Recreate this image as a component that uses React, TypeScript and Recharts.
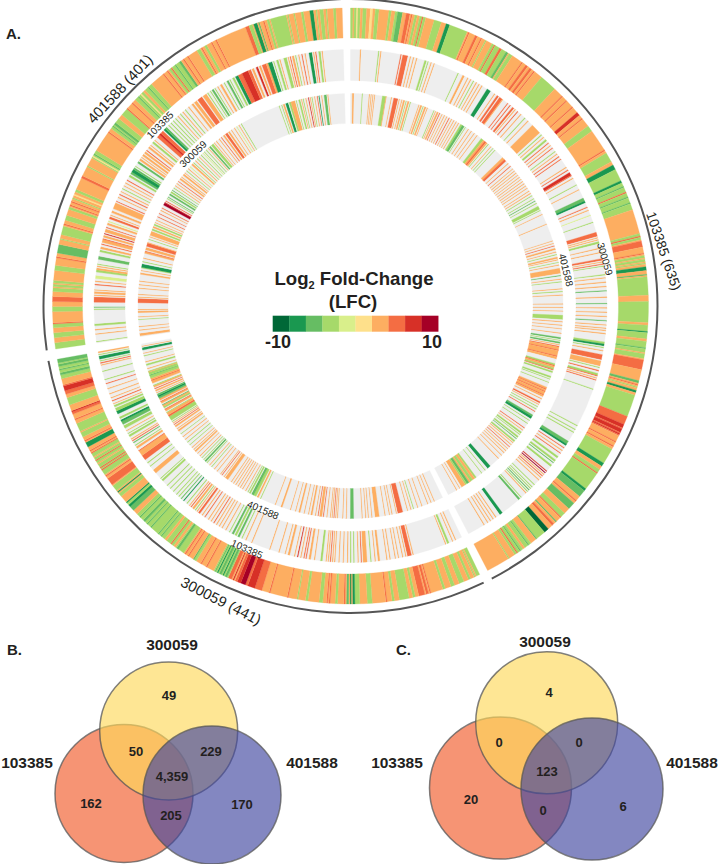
import React from 'react';
import { PieChart, Pie, Cell, ScatterChart, Scatter, XAxis, YAxis } from 'recharts';

type Stripe = [number, number, number]; // first gene, gene count, LFC

const SECTOR_NAMES = ['103385', '300059', '401588'];
const SECTOR_GENES = [635, 441, 401];
const SECTOR_ANGLES = [[0, 152.6], [154.3, 259.7], [261.7, 358.4]];

const LFC_BINS = [-9, -7, -5, -3, -1, 1, 3, 5, 7, 9];
const LFC_COLORS = ['#006837', '#1a9850', '#66bd63', '#a6d96a', '#d9ef8b', '#fee08b', '#fdae61', '#f46d43', '#d73027', '#a50026'];
const NO_CHANGE = '#eeeeee';

// outer ring, genes with an LFC in 103385; background is +3
const OUTER_103385: Stripe[] = [
  [0,8,-3],[2,1,3],[5,1,1],[10,3,-3],[16,2,1],[20,3,-3],[31,2,-3],[36,2,-3],[38,4,-5],[45,3,5],[49,1,5],[52,2,-3],[56,5,-3],[58,1,5],[68,6,-3],
  [78,3,-7],[81,15,-3],[97,1,5],[103,2,5],[108,1,5],[112,1,-3],[118,7,-3],[120,1,5],[125,2,5],[127,4,-3],[131,2,-5],[134,3,-3],[146,1,5],[150,2,5],[154,2,5],[158,1,5],
  [166,14,-3],[188,1,5],[193,1,5],[200,1,5],[206,3,7],[212,1,5],[220,5,-3],[243,1,5],[246,8,-3],[257,4,-7],[261,10,-3],[271,2,-7],[273,23,-3],[276,1,-5],[281,1,5],[285,1,-5],[290,1,-5],
  [316,5,-3],[318,1,5],[322,5,5],[332,1,5],[334,2,-3],[337,2,-3],[340,1,-3],[343,3,-7],[347,1,3],[349,1,-5],[351,15,-3],[371,1,-3],
  [372,45,-3],[388,2,3],[395,1,-7],[401,2,3],[408,1,-5],[412,1,3],[418,8,5],[435,2,-5],[438,1,5],[440,1,-3],[443,2,-7],[447,18,-3],[465,17,5],[472,3,7],[476,3,7],[480,1,7],[487,1,5],[491,1,5],
  [494,13,-3],[507,3,-7],[513,19,-3],[516,1,5],[532,2,-7],[534,6,-5],[544,1,5],[547,6,-5],[558,4,-3],[562,1,5],[567,1,-5],[570,2,5],[576,4,-9],[580,5,-3],[585,3,-3],[588,1,-5],[594,6,-3],[596,1,-5],[602,8,-3],[604,1,-5],[607,1,5],[615,1,-3],
];
const OUTER_300059: Stripe[] = [
  [0,3,-3],[4,1,-3],[8,2,-3],[14,4,-3],[22,3,-3],[30,2,-3],[42,1,5],[44,8,5],[46,1,3],[55,2,-3],[60,8,-3],[72,2,-3],[78,1,5],[90,4,-3],[100,4,-3],[104,2,-7],[107,1,-7],[109,2,-5],[112,1,5],[118,2,-3],[124,1,5],[126,1,5],[130,3,-3],[142,2,-3],[150,1,-3],[158,1,5],[173,1,5],
  [180,6,5],[186,6,7],[192,2,5],[194,4,9],[198,3,7],[201,2,5],[204,1,7],[206,3,5],[209,13,-3],[210,2,-5],[213,1,-7],[215,2,-5],[218,1,-7],[220,1,-5],[228,1,5],[233,1,5],[238,3,-3],[240,1,-5],[245,1,5],[248,1,5],
  [250,30,-3],[255,2,-5],[258,2,3],[262,1,5],[267,2,3],[272,1,-5],[275,1,-5],[280,20,-3],[283,1,-5],[287,1,-5],[290,2,-5],[295,1,-5],[299,1,3],[303,4,-5],[307,2,-7],[309,2,-3],[311,1,-7],[318,3,-3],[322,1,-7],[324,5,-3],[330,6,5],[338,1,5],
  [340,20,-3],[344,1,5],[346,1,5],[350,1,3],[353,1,5],[356,1,3],[360,1,5],[362,1,5],[366,4,-7],[371,1,5],[375,12,-3],[379,1,3],[390,1,5],[395,3,5],[397,1,7],[403,6,-3],[412,3,5],[415,4,7],[419,1,5],[425,16,-3],[428,2,-5],[432,1,-5],[435,2,-5],[438,3,-5],
];
const OUTER_401588: Stripe[] = [
  [0,5,-3],[9,4,-3],[17,4,-3],[20,1,5],[30,4,-3],[38,4,5],[46,9,-3],[49,1,3],[52,1,3],[63,4,-3],[73,1,5],[77,7,-5],[88,1,-3],[92,7,-3],[100,1,5],[104,4,-3],[113,2,-3],[116,1,5],[119,1,5],[122,1,-3],[125,1,1],[128,2,-3],[140,2,5],[150,1,-3],
  [158,7,-3],[159,1,1],[161,1,-5],[182,1,5],[186,10,-3],[188,1,-5],[190,2,-5],[200,6,-3],[206,1,5],[212,1,5],[216,18,-3],[219,1,-5],[222,1,1],[225,2,3],[230,1,-5],[246,1,5],[250,1,5],[252,12,-3],[254,1,5],[258,1,-5],[262,2,-5],[266,1,5],[270,1,5],
  [279,3,-3],[283,1,5],[286,2,-3],[292,1,5],[296,1,5],[322,3,5],[325,3,-3],[329,3,-7],[333,1,-5],[337,1,5],[340,16,-3],[342,1,3],[357,1,-3],[362,1,-3],[368,2,-3],[375,3,-7],[380,1,-3],[383,3,-3],[388,1,-3],[394,2,-3],
];

// middle ring; background is no change
const MIDDLE_103385: Stripe[] = [
  [9,1,3],[26,1,-3],[28,1,3],[47,1,5],[49,5,5],[56,1,3],[59,1,3],[62,1,3],[70,2,-3],[73,1,-3],[76,1,3],[79,1,3],[103,1,-3],[108,2,3],[113,1,3],[116,1,3],[119,1,-3],[122,1,3],[125,1,3],[128,1,3],[134,4,-7],[142,1,3],[145,2,5],[148,3,5],[151,1,3],[157,1,5],[160,1,5],[163,2,5],[166,1,3],[169,1,5],[173,1,3],[178,1,-3],[182,1,3],[188,10,3],
  [200,1,-3],[203,1,3],[206,2,-3],[210,1,5],[213,1,3],[216,1,5],[220,1,-3],[223,1,3],[226,1,5],[229,1,5],[238,1,3],[241,1,5],[244,3,7],[247,1,5],[250,1,3],[257,1,-3],[262,1,3],[271,3,-5],[274,2,-7],[280,1,5],[283,1,3],[288,1,-1],[295,1,-3],[305,4,5],[310,1,3],[312,1,3],[314,2,-3],[320,1,3],[324,1,3],[330,2,5],[333,1,3],[335,1,5],[337,1,-3],[345,1,-3],[348,1,3],[352,1,3],[356,1,3],[360,1,-5],[366,1,3],
  [372,1,-5],[376,1,3],[380,1,3],[384,1,3],[388,1,-5],[392,1,3],[395,1,3],[397,1,3],[400,1,3],[408,2,-3],[410,2,-7],[413,1,-3],[416,1,3],[420,5,5],[426,5,3],[432,1,-3],[435,1,5],[438,2,-3],[440,1,5],[442,1,3],[444,1,5],[453,1,-3],[490,1,-3],[494,1,-3],[497,1,-3],[507,3,-5],[510,2,-7],[514,1,5],[517,1,3],[520,1,5],[524,2,-3],[528,2,-3],[531,1,-5],[534,2,-3],[541,1,7],[543,1,9],[545,1,3],[547,1,5],[549,1,3],[552,1,3],[558,1,-3],[561,1,-3],[563,1,-3],[565,1,-5],[567,1,-3],[569,1,3],[575,1,-3],[577,2,-5],[598,3,-7],[605,1,3],[608,1,3],[611,1,3],[614,1,3],[618,1,3],
];
const MIDDLE_300059: Stripe[] = [
  [6,1,3],[9,1,3],[13,2,-3],[16,1,3],[48,1,3],[50,4,5],[55,1,3],[58,1,3],[62,1,3],[65,1,3],[70,1,3],[73,1,3],[80,2,3],[84,1,3],[88,1,-3],[92,4,3],[97,1,5],[100,1,3],[104,1,-3],[107,1,-3],[110,1,3],[114,1,3],[118,1,3],[122,1,3],[124,1,3],[126,1,5],[128,1,3],[130,1,3],[134,2,-3],[141,1,3],[145,2,3],[149,1,5],[151,1,5],[154,1,3],[157,1,7],[160,1,3],[165,2,3],[169,1,3],[175,1,3],[184,1,3],
  [202,1,3],[208,1,3],[212,1,-3],[215,2,-5],[218,2,-3],[221,2,-5],[225,1,-3],[229,1,3],[233,1,3],[236,1,3],[239,1,3],[242,1,5],[245,1,3],[248,1,3],[252,1,5],[255,1,3],[258,2,5],[261,1,3],[263,1,-3],[265,2,3],[268,1,5],[270,1,3],[273,1,-3],[277,1,-7],[280,1,-5],[283,1,-3],[286,1,-3],[290,1,-3],[294,1,-3],[298,1,-3],[304,2,-3],[307,1,-3],[314,3,3],[317,1,3],[322,1,-3],[326,1,-3],
  [330,5,5],[335,5,3],[340,1,5],[343,2,3],[346,1,-3],[349,1,-5],[351,1,5],[353,1,3],[356,2,-3],[359,1,-3],[362,1,3],[365,3,-3],[369,3,-5],[372,2,-7],[375,2,-3],[380,3,-7],[383,3,-3],[387,2,-3],[390,1,3],[393,1,5],[396,1,3],[400,1,3],[405,1,3],[410,1,5],[414,1,-3],[422,1,-3],[428,1,3],[430,1,5],[432,1,-3],[434,3,-7],[438,1,-3],[440,1,3],
];
const MIDDLE_401588: Stripe[] = [
  [1,1,-3],[8,1,3],[12,1,3],[16,2,-3],[31,1,-3],[33,1,-5],[38,5,5],[44,1,3],[46,2,3],[49,1,3],[54,1,5],[57,1,3],[60,3,-1],[66,2,-3],[68,2,3],[71,1,3],[73,1,-3],[78,3,-5],[85,2,-3],[88,2,3],[92,1,5],[94,3,3],[97,1,5],[99,2,3],[102,1,7],[104,3,3],[108,1,5],[111,2,3],[114,1,-1],[117,2,5],[120,1,3],[123,2,3],[127,6,3],[134,1,5],[138,1,3],[141,1,5],[144,1,3],[147,1,-3],[150,1,3],[153,1,3],[156,1,5],[160,2,-3],[163,2,-5],[165,3,-7],[168,2,-5],[171,1,-3],[175,2,-5],[178,2,3],[181,1,3],[183,2,3],[186,2,3],[189,1,5],[192,2,3],[195,1,3],[198,2,-3],
  [201,1,3],[205,8,5],[208,2,7],[214,2,-7],[216,2,-5],[220,1,-3],[223,1,-3],[226,1,-3],[229,1,-3],[232,1,3],[235,1,-3],[238,1,3],[241,1,-3],[245,1,3],[249,2,3],[252,3,3],[256,5,5],[262,4,3],[267,1,-3],[270,1,-3],[272,2,-5],[275,1,-3],[278,1,3],[281,2,3],[285,1,-3],[288,2,-5],[291,1,-3],[294,2,-3],[297,3,-7],[300,4,5],[304,6,7],[310,3,5],[314,2,3],[318,2,7],[321,2,3],[324,4,5],[328,2,3],[330,4,-7],[335,1,-3],[338,2,-3],[341,1,3],[345,3,-3],[349,1,3],[351,1,5],[353,2,3],[356,1,-3],[359,1,3],[362,1,5],[365,1,3],[369,3,-7],[373,1,3],[375,1,5],[378,2,-3],[381,1,3],
];

// inner ring; background is no change
const INNER_103385: Stripe[] = [
  [2,2,3],[13,1,-3],[21,1,3],[23,1,3],[25,1,3],[27,1,3],[36,4,-3],[40,1,3],[46,1,3],[49,5,5],[55,1,3],[58,1,3],[60,2,3],[63,1,-3],[65,2,3],[68,1,-3],[78,1,3],[80,2,3],[83,1,-3],[85,2,3],[88,1,3],[96,1,-3],[98,1,3],[100,2,3],[103,1,5],[106,1,3],[109,1,3],[112,1,3],[115,1,5],[118,1,3],[121,1,3],[124,1,3],[127,1,3],[130,2,-3],[132,3,-5],[136,1,-3],[140,1,3],[144,1,3],[148,1,3],[152,1,3],[158,3,-3],[161,2,3],[163,2,5],[165,2,3],[168,1,-3],[172,1,3],[175,1,-3],[178,1,-3],[190,5,3],[193,3,5],[199,1,3],
  [203,1,5],[207,1,3],[210,1,3],[213,1,3],[216,1,3],[219,1,3],[222,1,3],[225,1,3],[228,1,3],[231,1,3],[234,1,3],[238,1,3],[241,1,3],[244,1,-3],[248,1,-3],[251,1,-5],[254,1,-3],[258,4,-3],[263,1,-3],[268,1,3],[280,1,3],[300,1,3],[303,1,3],[306,1,5],[309,2,3],[313,1,3],[316,1,-3],[319,2,3],[322,1,3],[325,1,-3],[328,1,3],[332,6,3],[340,1,-5],[344,1,3],[347,1,-3],[355,1,3],[358,1,-3],[362,1,3],[372,1,3],[376,1,3],[380,1,3],[385,5,-3],[392,1,3],[396,1,3],
  [400,1,3],[405,1,3],[410,2,-5],[413,1,-3],[415,2,-5],[418,1,3],[420,1,5],[421,3,3],[424,1,5],[425,8,3],[431,1,5],[433,2,3],[440,2,-3],[442,1,5],[443,2,3],[445,2,-3],[447,1,5],[449,2,-3],[455,2,-3],[458,1,-3],[462,1,-3],[468,12,3],[470,1,5],[473,1,5],[477,1,5],[482,1,3],[486,2,5],[489,1,3],[492,1,-3],[495,1,-3],[498,1,5],[503,2,-5],[505,3,-7],[510,1,-3],[514,1,-3],[520,1,5],[523,1,3],[526,2,-3],[529,1,-3],[532,2,-3],[535,1,-5],[538,2,-3],[541,1,3],[544,1,3],[547,1,5],[550,1,3],[553,1,3],[556,1,3],[560,1,3],[565,1,3],[578,4,-7],[585,1,-3],[590,1,-3],[598,2,-3],[600,3,3],[603,3,-3],[606,2,3],[608,3,-5],[611,2,-3],[613,5,3],[620,1,3],[624,1,3],
];
const INNER_300059: Stripe[] = [
  [10,1,3],[14,1,3],[18,1,3],[25,1,3],[30,1,3],[35,1,-3],[38,1,3],[42,1,3],[48,6,5],[55,1,3],[60,1,3],[63,1,3],[68,1,3],[75,5,3],[83,1,3],[87,1,3],[90,1,3],[94,1,3],[104,4,-5],[112,1,3],[116,1,3],[122,1,3],[124,1,3],[126,1,5],[128,1,3],[130,1,3],[134,1,3],[138,1,5],[140,3,3],[144,1,5],[147,1,3],[151,2,3],[155,1,3],[160,1,3],[165,2,3],[170,1,3],[176,1,3],[186,2,3],[194,1,3],
  [212,1,-3],[215,2,3],[218,3,-3],[221,3,-5],[225,2,-3],[228,1,-3],[231,1,3],[235,1,3],[238,1,3],[241,1,3],[244,1,3],[247,1,3],[250,1,3],[255,4,3],[260,1,3],[263,1,5],[265,1,3],[270,1,3],[274,1,3],[278,1,-3],[281,1,3],[285,1,-3],[287,2,-5],[290,1,-3],[293,1,-3],[296,1,3],[300,1,3],[303,2,3],[306,1,3],[309,1,3],[313,1,-3],[317,1,-3],[321,1,3],[325,1,3],[329,1,-3],[333,2,3],[336,1,3],[339,2,3],[342,1,5],[344,1,3],[346,1,-3],
  [348,5,-3],[353,2,5],[355,3,3],[358,1,-3],[360,2,3],[362,1,5],[364,2,-3],[366,2,3],[368,1,-5],[370,2,3],[372,1,5],[374,2,3],[376,2,-5],[378,2,-7],[380,2,-5],[383,1,3],[385,2,3],[388,1,5],[390,2,3],[392,1,-3],[395,6,3],[398,1,5],[401,9,-3],[404,1,-5],[408,1,3],[412,1,3],[416,2,-3],[420,1,3],[427,1,-3],[430,1,3],[434,3,-7],[438,1,3],
];
const INNER_401588: Stripe[] = [
  [1,3,3],[7,1,3],[11,1,3],[19,1,-3],[22,1,3],[27,2,3],[30,1,3],[38,5,5],[44,1,3],[47,1,3],[54,1,3],[58,1,3],[62,1,3],[70,2,3],[74,1,3],[77,1,-3],[78,4,-7],[84,1,-3],[88,1,3],[94,2,3],[96,1,5],[98,3,3],[102,4,5],[106,1,3],[110,1,-3],[113,1,3],[115,5,3],[121,2,-3],[124,2,3],[127,2,-3],[130,1,3],[133,1,3],[137,1,5],[141,1,5],[145,1,3],[148,1,5],[152,3,9],[155,1,7],[157,1,5],[160,1,-3],[162,1,-5],[165,2,-5],[168,2,-3],[171,1,-5],[174,1,-3],[177,1,3],[180,1,3],[183,1,5],[186,2,3],[189,1,3],[192,2,3],[195,1,3],[198,1,-3],
  [201,1,3],[204,1,-1],[207,2,3],[210,1,-3],[213,1,3],[216,1,-3],[219,1,3],[222,1,-3],[225,1,-1],[227,1,-3],[230,1,-3],[233,1,3],[235,2,-5],[238,3,-3],[242,1,3],[245,1,3],[249,1,3],[252,1,5],[255,2,3],[258,3,5],[262,2,3],[266,1,3],[270,1,3],[273,1,-1],[276,1,3],[279,1,-3],[326,1,-3],[329,1,-3],[331,2,3],[334,3,-7],[338,2,-3],[340,5,3],[346,1,-3],[349,2,-3],[352,1,3],[354,1,-3],[357,1,3],[360,1,7],[362,1,3],[364,1,-3],[367,1,3],[370,1,5],[372,1,-7],[375,1,3],[378,3,-5],[382,1,3],
];

// venn panels: set centres and region labels in panel units
const VENN_SETS_B = [{ x: 124, y: 163.5 }, { x: 168.7, y: 101 }, { x: 212, y: 165 }];
const VENN_SETS_C = [{ x: 140.5, y: 158 }, { x: 186.7, y: 92.8 }, { x: 232, y: 159 }];
const VENN_COUNTS_B = [
  { x: 169, y: 65, text: '49' }, { x: 136, y: 121, text: '50' }, { x: 211, y: 121, text: '229' }, { x: 172, y: 146, text: '4,359' },
  { x: 91, y: 173, text: '162' }, { x: 171, y: 185, text: '205' }, { x: 242, y: 174, text: '170' },
];
const VENN_COUNTS_C = [
  { x: 189, y: 62, text: '4' }, { x: 139, y: 112, text: '0' }, { x: 219, y: 112, text: '0' }, { x: 187, y: 141, text: '123' },
  { x: 111, y: 169, text: '20' }, { x: 183, y: 180, text: '0' }, { x: 263, y: 176, text: '6' },
];
const VENN_NAMES_B = [{ x: 27, y: 132, text: '103385' }, { x: 172, y: 14, text: '300059' }, { x: 312, y: 132, text: '401588' }];
const VENN_NAMES_C = [{ x: 37, y: 132, text: '103385' }, { x: 185, y: 11, text: '300059' }, { x: 332, y: 132, text: '401588' }];
const VENN_FILLS = ['#f15a29', '#fdd85a', '#4047a0'];

const FONT = '"Liberation Sans", Arial, sans-serif';

const lfcColor = (lfc: number) => (lfc === 0 ? NO_CHANGE : LFC_COLORS[LFC_BINS.indexOf(lfc)] ?? NO_CHANGE);

// paints the stripes over the background and merges neighbouring genes into runs
function toRuns(total: number, background: number, stripes: Stripe[]) {
  const genes: number[] = new Array(total).fill(background);
  stripes.forEach(([first, count, lfc]) => {
    for (let i = first; i < first + count && i < total; i++) genes[i] = lfc;
  });
  const runs: { genes: number; lfc: number }[] = [];
  genes.forEach((lfc) => {
    const last = runs[runs.length - 1];
    if (last && last.lfc === lfc) last.genes += 1;
    else runs.push({ genes: 1, lfc });
  });
  return runs;
}

const RINGS = [
  { inner: 268, outer: 298, background: 3, sectors: [OUTER_103385, OUTER_300059, OUTER_401588] },
  { inner: 225.5, outer: 256.5, background: 0, sectors: [MIDDLE_103385, MIDDLE_300059, MIDDLE_401588] },
  { inner: 182.5, outer: 212.5, background: 0, sectors: [INNER_103385, INNER_300059, INNER_401588] },
];

const CircularHeatmap = () => (
  <PieChart width={720} height={630} margin={{ top: 0, right: 0, bottom: 0, left: 0 }}>
    {SECTOR_NAMES.map((name, s) => (
      <Pie
        key={name}
        data={[{ name, genes: SECTOR_GENES[s] }]}
        dataKey="genes"
        cx={350.5}
        cy={306}
        innerRadius={306}
        outerRadius={308}
        startAngle={90 - SECTOR_ANGLES[s][0]}
        endAngle={90 - SECTOR_ANGLES[s][1]}
        fill="#555555"
        stroke="none"
        isAnimationActive={false}
      />
    ))}
    {RINGS.map((ring, r) =>
      ring.sectors.map((stripes, s) => {
        const runs = toRuns(SECTOR_GENES[s], ring.background, stripes);
        return (
          <Pie
            key={`${r}-${s}`}
            data={runs}
            dataKey="genes"
            cx={350.5}
            cy={306}
            innerRadius={ring.inner}
            outerRadius={ring.outer}
            startAngle={90 - SECTOR_ANGLES[s][0]}
            endAngle={90 - SECTOR_ANGLES[s][1]}
            isAnimationActive={false}
          >
            {runs.map((run, i) => (
              <Cell key={i} fill={lfcColor(run.lfc)} stroke={lfcColor(run.lfc)} strokeWidth={0.3} />
            ))}
          </Pie>
        );
      })
    )}
  </PieChart>
);

const TextPoint = (size: number, weight: string) => (props: any) => (
  <text
    x={props.cx}
    y={props.cy}
    textAnchor="middle"
    dominantBaseline="central"
    fontFamily={FONT}
    fontSize={size}
    fontWeight={weight}
    fill="#231f20"
  >
    {props.payload.text}
  </text>
);

const VennCircle = (radius: number, fill: string) => (props: any) => (
  <circle cx={props.cx} cy={props.cy} r={radius} fill={fill} fillOpacity={0.65} stroke="#555555" strokeOpacity={0.75} strokeWidth={1.5} />
);

const VennPanel = ({ sets, counts, names, radius }: any) => (
  <ScatterChart width={360} height={234} margin={{ top: 0, right: 0, bottom: 0, left: 0 }} style={{ overflow: 'visible' }}>
    <XAxis type="number" dataKey="x" domain={[0, 360]} hide />
    <YAxis type="number" dataKey="y" domain={[0, 234]} reversed hide />
    {sets.map((set: any, i: number) => (
      <Scatter key={i} data={[set]} shape={VennCircle(radius, VENN_FILLS[i])} isAnimationActive={false} />
    ))}
    <Scatter data={counts} shape={TextPoint(13, 'bold')} isAnimationActive={false} />
    <Scatter data={names} shape={TextPoint(15.5, 'bold')} isAnimationActive={false} />
  </ScatterChart>
);

const RotatedLabel = ({ x, y, angle, size, children }: any) => (
  <text
    x={x}
    y={y}
    transform={`rotate(${angle} ${x} ${y})`}
    textAnchor="middle"
    dominantBaseline="central"
    fontFamily={FONT}
    fontSize={size}
    fill="#231f20"
  >
    {children}
  </text>
);

const Annotations = () => (
  <svg width={720} height={864} style={{ position: 'absolute', left: 0, top: 0 }}>
    <g fontFamily={FONT} fontWeight="bold" fill="#231f20">
      <text x={6} y={39} fontSize={15}>A.</text>
      <text x={7} y={655} fontSize={15}>B.</text>
      <text x={396} y={655} fontSize={15}>C.</text>
      <text x={354} y={285} fontSize={18.6} textAnchor="middle">
        Log<tspan fontSize={11} dy={4}>2</tspan><tspan dy={-4}> Fold-Change</tspan>
      </text>
      <text x={353} y={308} fontSize={18.6} textAnchor="middle">(LFC)</text>
      <text x={265} y={348} fontSize={18}>-10</text>
      <text x={442} y={348} fontSize={18} textAnchor="end">10</text>
    </g>
    {LFC_COLORS.map((color, i) => (
      <rect key={color} x={272.7 + i * 16.55} y={315.7} width={16.8} height={16} fill={color} />
    ))}
    <RotatedLabel x={120} y={89} angle={-47} size={14.8}>401588 (401)</RotatedLabel>
    <RotatedLabel x={663.5} y={251} angle={71} size={13.8}>103385 (635)</RotatedLabel>
    <RotatedLabel x={221} y={601} angle={27} size={14.8}>300059 (441)</RotatedLabel>
    <RotatedLabel x={566} y={270} angle={76} size={10}>401588</RotatedLabel>
    <RotatedLabel x={605} y={259} angle={74} size={10}>300059</RotatedLabel>
    <RotatedLabel x={160} y={125} angle={-45} size={10}>103385</RotatedLabel>
    <RotatedLabel x={193} y={154} angle={-44} size={10}>300059</RotatedLabel>
    <RotatedLabel x={263} y={510} angle={23} size={10}>401588</RotatedLabel>
    <RotatedLabel x={247} y={549} angle={24} size={10}>103385</RotatedLabel>
  </svg>
);

export default function App() {
  return (
    <div style={{ position: 'absolute', left: 0, top: 0, width: 720, height: 864, background: '#ffffff', overflow: 'hidden' }}>
      <div style={{ position: 'absolute', left: 0, top: 0 }}>
        <CircularHeatmap />
      </div>
      <div style={{ position: 'absolute', left: 0, top: 630 }}>
        <VennPanel sets={VENN_SETS_B} counts={VENN_COUNTS_B} names={VENN_NAMES_B} radius={69} />
      </div>
      <div style={{ position: 'absolute', left: 360, top: 630 }}>
        <VennPanel sets={VENN_SETS_C} counts={VENN_COUNTS_C} names={VENN_NAMES_C} radius={71} />
      </div>
      <Annotations />
    </div>
  );
}
